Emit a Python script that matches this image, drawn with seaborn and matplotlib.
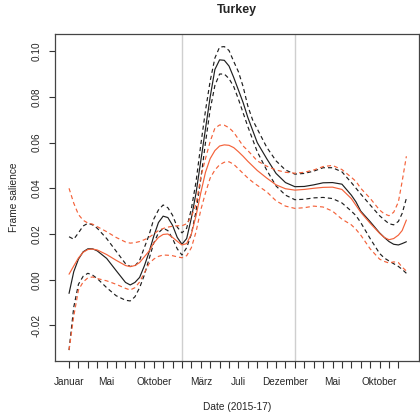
import matplotlib
matplotlib.use("Agg")
import matplotlib.pyplot as plt
import seaborn as sns
import pandas as pd

sns.set_style("white")
plt.rcParams["font.family"] = ["Liberation Sans", "DejaVu Sans"]

# Months since January 2015
months = [0, 0.5, 1, 1.5, 2, 2.5, 3, 4, 5, 6,
          6.5, 7, 7.5, 8, 8.5, 9, 9.5, 10, 10.5, 11,
          11.5, 12, 12.5, 13, 13.5, 14, 14.5, 15, 15.5, 16,
          16.5, 17, 17.5, 18, 18.5, 19, 19.5, 20, 21, 22,
          23, 24, 25, 26, 27, 28, 29, 30, 30.5, 31,
          32, 33, 33.5, 34, 34.5, 35, 35.4, 35.85]

# Frame salience, first estimate with confidence band
black_fit = [-0.0060, 0.0035, 0.0090, 0.0122, 0.0135, 0.0135, 0.0126, 0.0093, 0.0040, -0.0012,
             -0.0023, -0.0012, 0.0010, 0.0060, 0.0120, 0.0190, 0.0250, 0.0278, 0.0272, 0.0238,
             0.0185, 0.0155, 0.0180, 0.0270, 0.0380, 0.0520, 0.0660, 0.0800, 0.0920, 0.0962,
             0.0960, 0.0935, 0.0885, 0.0830, 0.0775, 0.0710, 0.0655, 0.0600, 0.0530, 0.0465,
             0.0425, 0.0407, 0.0408, 0.0415, 0.0424, 0.0425, 0.0418, 0.0370, 0.0340, 0.0300,
             0.0254, 0.0205, 0.0185, 0.0167, 0.0155, 0.0152, 0.0158, 0.0166]
black_upper = [0.0188, 0.0177, 0.0205, 0.0235, 0.0247, 0.0240, 0.0225, 0.0180, 0.0125, 0.0070,
               0.0058, 0.0060, 0.0085, 0.0140, 0.0195, 0.0265, 0.0305, 0.0327, 0.0315, 0.0282,
               0.0230, 0.0205, 0.0225, 0.0310, 0.0430, 0.0590, 0.0740, 0.0870, 0.0970, 0.1018,
               0.1020, 0.1003, 0.0955, 0.0910, 0.0845, 0.0760, 0.0700, 0.0660, 0.0580, 0.0520,
               0.0480, 0.0462, 0.0465, 0.0475, 0.0490, 0.0490, 0.0472, 0.0425, 0.0400, 0.0375,
               0.0327, 0.0280, 0.0262, 0.0245, 0.0240, 0.0255, 0.0290, 0.0356]
black_lower = [-0.0308, -0.0120, -0.0020, 0.0015, 0.0028, 0.0020, 0.0005, -0.0035, -0.0070, -0.0090,
               -0.0093, -0.0075, -0.0035, 0.0020, 0.0090, 0.0160, 0.0205, 0.0225, 0.0215, 0.0180,
               0.0135, 0.0108, 0.0140, 0.0200, 0.0300, 0.0440, 0.0600, 0.0745, 0.0850, 0.0900,
               0.0900, 0.0880, 0.0845, 0.0790, 0.0730, 0.0670, 0.0615, 0.0560, 0.0480, 0.0410,
               0.0370, 0.0350, 0.0352, 0.0358, 0.0360, 0.0355, 0.0336, 0.0300, 0.0280, 0.0250,
               0.0180, 0.0115, 0.0095, 0.0082, 0.0070, 0.0058, 0.0045, 0.0028]

# Frame salience, second estimate with confidence band
red_fit = [0.0024, 0.0060, 0.0095, 0.0120, 0.0132, 0.0134, 0.0130, 0.0110, 0.0085, 0.0062,
           0.0057, 0.0062, 0.0075, 0.0100, 0.0125, 0.0160, 0.0185, 0.0198, 0.0200, 0.0185,
           0.0168, 0.0152, 0.0158, 0.0200, 0.0280, 0.0380, 0.0470, 0.0530, 0.0565, 0.0585,
           0.0590, 0.0588, 0.0578, 0.0560, 0.0540, 0.0518, 0.0498, 0.0478, 0.0445, 0.0415,
           0.0398, 0.0392, 0.0395, 0.0400, 0.0404, 0.0405, 0.0395, 0.0355, 0.0325, 0.0295,
           0.0247, 0.0203, 0.0185, 0.0175, 0.0180, 0.0195, 0.0215, 0.0261]
red_upper = [0.0400, 0.0335, 0.0285, 0.0260, 0.0248, 0.0243, 0.0232, 0.0210, 0.0185, 0.0165,
             0.0160, 0.0162, 0.0167, 0.0175, 0.0185, 0.0200, 0.0215, 0.0224, 0.0230, 0.0234,
             0.0236, 0.0236, 0.0245, 0.0275, 0.0330, 0.0450, 0.0530, 0.0605, 0.0663, 0.0677,
             0.0676, 0.0665, 0.0645, 0.0615, 0.0585, 0.0565, 0.0543, 0.0520, 0.0497, 0.0480,
             0.0470, 0.0466, 0.0470, 0.0480, 0.0495, 0.0500, 0.0482, 0.0448, 0.0430, 0.0400,
             0.0356, 0.0305, 0.0288, 0.0280, 0.0295, 0.0340, 0.0430, 0.0540]
red_lower = [-0.0308, -0.0160, -0.0045, -0.0010, 0.0008, 0.0012, 0.0005, -0.0005, -0.0020, -0.0038,
             -0.0045, -0.0035, -0.0010, 0.0030, 0.0070, 0.0090, 0.0102, 0.0108, 0.0107, 0.0105,
             0.0100, 0.0096, 0.0105, 0.0140, 0.0210, 0.0305, 0.0380, 0.0445, 0.0480, 0.0503,
             0.0514, 0.0516, 0.0505, 0.0485, 0.0465, 0.0445, 0.0428, 0.0413, 0.0385, 0.0345,
             0.0322, 0.0312, 0.0315, 0.0322, 0.0318, 0.0300, 0.0265, 0.0240, 0.0220, 0.0195,
             0.0135, 0.0090, 0.0080, 0.0073, 0.0078, 0.0075, 0.0055, 0.0038]

# Month ticks (Jan 2015 .. Dec 2017) and the labels that are shown
tick_months = list(range(36))
tick_labels = {0: "Januar", 4: "Mai", 9: "Oktober", 14: "März", 18: "Juli",
               23: "Dezember", 28: "Mai", 33: "Oktober"}
year_breaks = [12, 24]

BLACK = "#1f1f1f"
RED = "#f4623a"
DASH = (0, (3.5, 2.6))

fig = plt.figure(figsize=(4.2, 4.17), dpi=100)
ax = fig.add_axes([0.131, 0.1343, 0.8666, 0.7849])

for xb in year_breaks:
    ax.axvline(xb, color="#cfcfcf", lw=1.0, zorder=0)

series = [
    (black_upper, BLACK, DASH),
    (black_lower, BLACK, DASH),
    (black_fit, BLACK, "-"),
    (red_upper, RED, DASH),
    (red_lower, RED, DASH),
    (red_fit, RED, "-"),
]
for vals, col, ls in series:
    df = pd.DataFrame({"month": months, "value": vals})
    sns.lineplot(data=df, x="month", y="value", ax=ax, color=col,
                 linestyle=ls, lw=0.85, estimator=None, sort=False)

ax.set_xlim(-1.49, 37.19)
ax.set_ylim(-0.03558, 0.10765)

ax.set_xticks(tick_months)
ax.set_xticklabels([tick_labels.get(m, "") for m in tick_months])
ax.set_yticks([-0.02, 0.00, 0.02, 0.04, 0.06, 0.08, 0.10])
ax.set_yticklabels(["-0.02", "0.00", "0.02", "0.04", "0.06", "0.08", "0.10"],
                   rotation=90, va="center")

ax.tick_params(axis="x", direction="out", length=5.2, width=0.8,
               color="#333333", pad=6.0, labelsize=7.2, bottom=True)
ax.tick_params(axis="y", direction="out", length=4.5, width=0.8,
               color="#333333", pad=5.0, labelsize=7.2, left=True)

for sp in ax.spines.values():
    sp.set_visible(True)
    sp.set_color("#444444")
    sp.set_linewidth(0.9)

ax.set_xlabel("Date (2015-17)", fontsize=7.3, va="center")
ax.xaxis.set_label_coords(0.5, -0.1405)
ax.set_ylabel("Frame salience", fontsize=7.3, va="center")
ax.yaxis.set_label_coords(-0.112, 0.5)
ax.set_title("Turkey", fontsize=9, fontweight="bold", pad=15)

fig.savefig("out.png", dpi=100)
